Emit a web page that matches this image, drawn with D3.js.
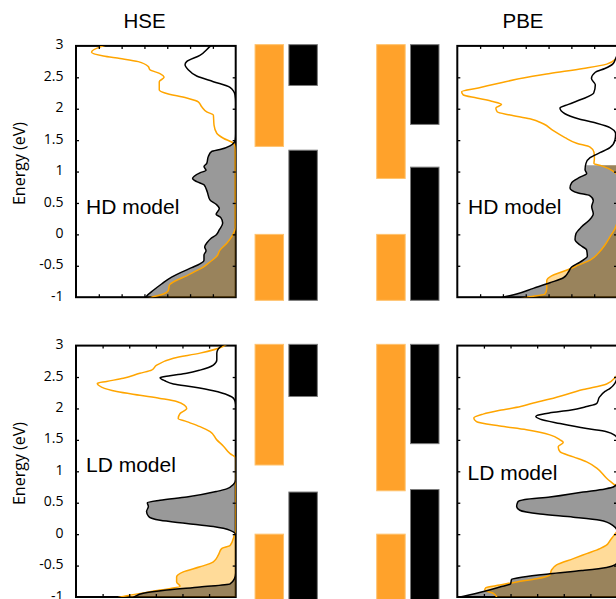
<!DOCTYPE html>
<html><head><meta charset="utf-8">
<script src="https://cdn.jsdelivr.net/npm/d3@7"></script>
<style>body{margin:0;background:#fff} svg{display:block}</style>
</head><body>
<svg id="chart" width="616" height="599"></svg>
<script>
// ---------------- DATA ----------------
const methods = ["HSE", "PBE"];
const models = ["HD model", "LD model"];
const species = ["orange", "black"];
const yTickValues = [-1, -0.5, 0, 0.5, 1, 1.5, 2, 2.5, 3];
const yTickLabels = ["-1", "-0.5", "0", "0.5", "1", "1.5", "2", "2.5", "3"];
const hdDosMax = 7, ldDosMax = 6;
const hdDosTicks = [1, 2, 3, 4, 5, 6];
const ldDosTicks = [1, 2, 3, 4, 5];

// occupied-state (fill) limits, per method [HSE, PBE]
const hdFillTop = [1.45, 1.10];
const ldFillTop = [0.83, 0.80];

// band edges [HSE, PBE]
const hdOrangeVB = [0, 0], hdOrangeCB = [1.40, 0.89];
const hdBlackVB = [1.34, 1.07], hdBlackCB = [2.37, 1.75];
const ldOrangeVB = [0, 0], ldOrangeCB = [1.10, 0.69];
const ldBlackVB = [0.67, 0.71], ldBlackCB = [2.19, 1.44];
const barTop = 3.02, barBottom = -1.05;

// DOS curves: [energy (eV), DOS]
const hseHdBlack = [[3.03,1.0],[2.98,1.16],[2.85,1.57],[2.75,2.15],[2.70,2.22],[2.62,2.08],[2.52,1.71],[2.43,0.98],[2.34,0.25],[2.22,0.03],[2.1,0],[1.6,0],[1.50,0.02],[1.41,0.25],[1.35,0.69],[1.32,1.05],[1.24,1.20],[1.13,1.27],[1.08,1.39],[1.02,1.30],[0.98,1.57],[0.89,1.89],[0.84,1.71],[0.79,1.39],[0.68,1.25],[0.55,1.13],[0.48,0.86],[0.41,0.72],[0.32,0.86],[0.27,0.66],[0.18,0.57],[0.07,0.72],[-0.01,0.86],[-0.07,1.10],[-0.13,1.25],[-0.20,1.36],[-0.26,1.30],[-0.33,1.39],[-0.41,1.39],[-0.47,1.57],[-0.53,1.93],[-0.60,2.37],[-0.68,2.81],[-0.79,3.25],[-0.89,3.61],[-0.98,3.90],[-1.03,4.0]];
const hseHdOrange = [[3.03,5.5],[3.0,5.80],[2.90,6.32],[2.84,5.80],[2.80,5.07],[2.75,4.27],[2.67,3.83],[2.62,3.76],[2.56,3.32],[2.50,3.14],[2.43,3.35],[2.30,3.35],[2.25,3.10],[2.17,2.15],[2.11,1.64],[2.03,1.49],[1.95,1.27],[1.90,0.98],[1.74,0.95],[1.61,0.83],[1.53,0.54],[1.45,0.10],[1.39,0.03],[1.3,0.02],[0.1,0.02],[0.04,0.07],[-0.04,0.18],[-0.14,0.39],[-0.25,0.69],[-0.35,0.83],[-0.44,1.13],[-0.52,1.42],[-0.59,1.78],[-0.66,2.15],[-0.73,2.59],[-0.81,2.91],[-0.89,2.95],[-0.95,3.17],[-1.0,3.68],[-1.03,3.9]];
const pbeHdBlack = [[3.03,0],[2.86,0],[2.80,0.06],[2.71,0.19],[2.64,0.53],[2.58,0.95],[2.48,1.12],[2.38,0.95],[2.25,1.02],[2.15,1.55],[2.07,2.13],[2.01,2.50],[1.92,2.28],[1.84,1.70],[1.77,0.89],[1.70,0.31],[1.60,0.06],[1.50,0.09],[1.38,0.31],[1.30,0.75],[1.22,1.18],[1.13,1.36],[1.03,1.40],[0.97,1.33],[0.91,1.62],[0.82,1.99],[0.74,2.06],[0.66,1.70],[0.62,1.21],[0.54,1.04],[0.44,1.11],[0.33,1.04],[0.23,1.21],[0.12,1.55],[0.01,1.80],[-0.08,1.84],[-0.17,1.62],[-0.25,1.33],[-0.35,1.30],[-0.44,1.62],[-0.52,1.99],[-0.60,2.13],[-0.69,2.35],[-0.77,2.94],[-0.86,3.67],[-0.95,4.40],[-1.0,4.99],[-1.03,5.3]];
const pbeHdOrange = [[3.03,0],[2.83,0],[2.79,0.06],[2.71,0.45],[2.64,1.48],[2.56,2.94],[2.49,4.11],[2.41,5.13],[2.33,6.08],[2.27,6.81],[2.22,6.74],[2.17,6.15],[2.12,5.50],[2.07,5.06],[2.01,5.31],[1.95,5.25],[1.90,4.69],[1.84,3.82],[1.76,3.23],[1.65,2.79],[1.54,2.28],[1.45,1.77],[1.39,1.18],[1.31,1.01],[1.21,0.99],[1.13,1.01],[1.09,0.67],[1.02,0.23],[0.94,0],[0.20,0],[0.09,0.09],[-0.04,0.31],[-0.17,0.53],[-0.30,0.82],[-0.41,1.18],[-0.49,1.70],[-0.54,1.99],[-0.60,2.43],[-0.66,2.87],[-0.74,3.08],[-0.86,3.08],[-0.95,3.16],[-1.0,3.96],[-1.03,4.3]];
const hseLdBlack = [[3.03,0.4],[3.01,0.49],[2.88,0.71],[2.77,0.71],[2.69,0.84],[2.61,1.34],[2.56,1.84],[2.52,2.47],[2.49,2.84],[2.44,2.66],[2.39,2.34],[2.34,1.59],[2.28,0.84],[2.21,0.28],[2.15,0.06],[2.06,0],[0.87,0],[0.79,0.09],[0.72,0.34],[0.68,0.71],[0.59,1.84],[0.54,2.84],[0.50,3.32],[0.44,3.28],[0.36,3.35],[0.28,3.27],[0.22,2.84],[0.17,1.84],[0.12,0.84],[0.06,0.21],[-0.01,0],[-0.62,0],[-0.71,0.05],[-0.79,0.21],[-0.84,1.34],[-0.89,2.59],[-0.94,3.47],[-0.99,3.78],[-1.03,3.9]];
const hseLdOrange = [[3.03,0.3],[2.99,0.46],[2.88,1.34],[2.80,2.34],[2.69,2.97],[2.61,3.16],[2.56,3.60],[2.48,4.22],[2.43,4.85],[2.40,5.20],[2.34,5.04],[2.27,4.47],[2.21,3.60],[2.16,2.84],[2.11,2.22],[2.00,1.84],[1.92,2.09],[1.84,2.16],[1.79,1.84],[1.71,1.34],[1.63,0.96],[1.50,0.71],[1.40,0.46],[1.28,0.21],[1.22,0.01],[1.16,0],[0.04,0],[0.01,0.03],[-0.18,0.21],[-0.23,0.53],[-0.33,0.65],[-0.44,0.84],[-0.52,1.34],[-0.60,1.97],[-0.68,2.22],[-0.76,2.22],[-0.83,2.09],[-0.89,2.84],[-0.99,4.22],[-1.03,4.6]];
const pbeLdBlack = [[3.03,0],[2.51,0],[2.40,0.08],[2.32,0.26],[2.27,0.45],[2.18,0.66],[2.08,0.76],[2.03,1.14],[1.97,1.77],[1.93,2.52],[1.89,3.00],[1.87,3.05],[1.83,2.89],[1.76,2.14],[1.68,1.14],[1.63,0.39],[1.57,0.08],[1.53,0],[0.81,0],[0.75,0.14],[0.72,0.45],[0.67,1.27],[0.59,2.52],[0.55,3.46],[0.51,3.73],[0.44,3.77],[0.38,3.65],[0.32,2.89],[0.27,1.64],[0.22,0.64],[0.14,0.16],[0.05,0],[-0.45,0],[-0.49,0.08],[-0.53,0.39],[-0.58,1.33],[-0.63,2.52],[-0.68,3.52],[-0.72,3.96],[-0.79,4.00],[-0.84,4.40],[-0.90,4.90],[-1.0,5.90],[-1.03,6.2]];
const pbeLdOrange = [[3.03,0],[2.54,0],[2.49,0.08],[2.39,0.39],[2.30,1.27],[2.15,2.52],[2.08,3.21],[2.03,3.62],[1.97,4.40],[1.91,5.03],[1.85,5.38],[1.79,5.28],[1.72,4.40],[1.66,3.40],[1.58,2.52],[1.50,2.14],[1.46,2.02],[1.39,2.21],[1.31,2.14],[1.23,1.64],[1.15,1.14],[1.05,0.76],[0.89,0.39],[0.80,0.14],[0.75,0],[0.05,0],[0.00,0.08],[-0.10,0.26],[-0.18,0.41],[-0.23,0.64],[-0.31,1.14],[-0.39,1.64],[-0.49,2.27],[-0.57,2.46],[-0.65,2.52],[-0.71,3.02],[-0.76,3.77],[-0.81,4.40],[-0.85,4.92],[-0.89,4.97],[-0.94,4.65],[-1.0,4.52],[-1.03,4.5]];

// ---------------- LAYOUT ----------------
const svg = d3.select("#chart");
const panelW = 159.7;
const colLeft = { HSE: 76, PBE: 457.3 };
const rows = [
  { model: models[0], yRange: [297.2, 45.9], dosMax: hdDosMax, dosTicks: hdDosTicks, fill: hdFillTop,
    curves: { HSE: [hseHdBlack, hseHdOrange], PBE: [pbeHdBlack, pbeHdOrange] },
    labelPos: { HSE: [86, 214], PBE: [468, 214] }, eLabelY: 163.5,
    bands: { orange: [hdOrangeVB, hdOrangeCB], black: [hdBlackVB, hdBlackCB] } },
  { model: models[1], yRange: [597, 345.6], dosMax: ldDosMax, dosTicks: ldDosTicks, fill: ldFillTop,
    curves: { HSE: [hseLdBlack, hseLdOrange], PBE: [pbeLdBlack, pbeLdOrange] },
    labelPos: { HSE: [86, 472], PBE: [467.5, 479.5] }, eLabelY: 463.5,
    bands: { orange: [ldOrangeVB, ldOrangeCB], black: [ldBlackVB, ldBlackCB] } }
];

const groupX = d3.scalePoint().domain(methods).range([286.2, 407.85]);
const innerX = d3.scaleBand().domain(species).range([-31.15, 31.15]).paddingInner(0.158);
const barFill = { orange: "#ffa22b", black: "#000000" };
const barStroke = { orange: "#ffc36f", black: "#7a7a7a" };

const defs = svg.append("defs");
let clipId = 0;
const lineOrange = "#ffa500";

// titles
methods.forEach((m, i) => {
  svg.append("text").attr("x", [144.5, 523][i]).attr("y", 27.5)
    .attr("text-anchor", "middle").attr("font-family", "Liberation Sans, Arial, sans-serif")
    .attr("font-size", 20.5).attr("fill", "#000").text(m);
});

rows.forEach((row, ri) => {
  const y = d3.scaleLinear().domain([-1, 3]).range(row.yRange);

  // energy label
  svg.append("text")
    .attr("transform", `translate(24.5,${row.eLabelY}) rotate(-90)`)
    .attr("text-anchor", "middle").attr("font-family", "Open Sans, sans-serif")
    .attr("font-size", 16).text("Energy (eV)");

  // band bars
  methods.forEach((m, mi) => {
    species.forEach(s => {
      const [vb, cb] = row.bands[s];
      const bx = groupX(m) + innerX(s);
      const bw = innerX.bandwidth();
      svg.append("rect").attr("x", bx).attr("width", bw)
        .attr("y", y(barTop)).attr("height", y(cb[mi]) - y(barTop))
        .attr("fill", barFill[s]).attr("stroke", barStroke[s]).attr("stroke-width", 1);
      svg.append("rect").attr("x", bx).attr("width", bw)
        .attr("y", y(vb[mi])).attr("height", y(barBottom) - y(vb[mi]))
        .attr("fill", barFill[s]).attr("stroke", barStroke[s]).attr("stroke-width", 1);
    });
  });

  methods.forEach((m, mi) => {
    const x0 = colLeft[m];
    const x = d3.scaleLinear().domain([0, row.dosMax]).range([x0 + panelW, x0]);
    const g = svg.append("g");
    const [top, bot] = [row.yRange[1], row.yRange[0]];

    const pid = "clipP" + (clipId++);
    defs.append("clipPath").attr("id", pid).append("rect")
      .attr("x", x0).attr("y", top).attr("width", panelW).attr("height", bot - top);
    const fid = "clipF" + (clipId++);
    defs.append("clipPath").attr("id", fid).append("rect")
      .attr("x", x0).attr("y", y(row.fill[mi])).attr("width", panelW).attr("height", bot - y(row.fill[mi]));

    // frame
    g.append("rect").attr("x", x0).attr("y", top).attr("width", panelW).attr("height", bot - top)
      .attr("fill", "none").attr("stroke", "#000").attr("stroke-width", 2);

    const [blackData, orangeData] = row.curves[m].map(c => c.slice().sort((a, b) => a[0] - b[0]));
    const curve = d3.curveMonotoneY;
    const area = d3.area().y(d => y(d[0])).x0(x(0)).x1(d => x(d[1])).curve(curve);
    const line = d3.line().y(d => y(d[0])).x(d => x(d[1])).curve(curve);

    const fills = g.append("g").attr("clip-path", `url(#${fid})`);
    fills.append("path").datum(orangeData).attr("d", area).attr("fill", lineOrange).attr("fill-opacity", 0.4);
    fills.append("path").datum(blackData).attr("d", area).attr("fill", "#000").attr("fill-opacity", 0.4);

    const lines = g.append("g").attr("clip-path", `url(#${pid})`);
    lines.append("path").datum(orangeData).attr("d", line).attr("fill", "none")
      .attr("stroke", lineOrange).attr("stroke-width", 1.5).attr("stroke-linejoin", "round");
    lines.append("path").datum(blackData).attr("d", line).attr("fill", "none")
      .attr("stroke", "#000").attr("stroke-width", 1.5).attr("stroke-linejoin", "round");

    // ticks (inward, mirrored)
    const innerY = yTickValues.slice(1, -1);
    const tickStyle = sel => { sel.select(".domain").remove(); sel.selectAll("line").attr("stroke", "#000").attr("stroke-width", 1.3); };
    g.append("g").attr("transform", `translate(${x0},0)`)
      .call(d3.axisLeft(y).tickValues(innerY).tickSize(-3).tickFormat("")).call(tickStyle);
    g.append("g").attr("transform", `translate(${x0 + panelW},0)`)
      .call(d3.axisRight(y).tickValues(innerY).tickSize(-3).tickFormat("")).call(tickStyle);
    g.append("g").attr("transform", `translate(0,${bot})`)
      .call(d3.axisBottom(x).tickValues(row.dosTicks).tickSize(-3).tickFormat("")).call(tickStyle);
    g.append("g").attr("transform", `translate(0,${top})`)
      .call(d3.axisTop(x).tickValues(row.dosTicks).tickSize(-3).tickFormat("")).call(tickStyle);

    if (m === "HSE") {
      const lab = g.append("g").attr("transform", `translate(${x0},0)`)
        .call(d3.axisLeft(y).tickValues(yTickValues).tickSize(0).tickPadding(12.5)
          .tickFormat((d, i) => yTickLabels[i]));
      lab.select(".domain").remove();
      lab.selectAll("text").attr("font-family", "Open Sans, sans-serif").attr("font-size", 14)
        .attr("fill", "#000").attr("dy", "0.22em");
    }

    // model label
    g.append("text").attr("x", row.labelPos[m][0]).attr("y", row.labelPos[m][1])
      .attr("font-family", "Liberation Sans, Arial, sans-serif").attr("font-size", 21)
      .attr("fill", "#000").text(row.model);
  });
});
</script>
</body></html>
